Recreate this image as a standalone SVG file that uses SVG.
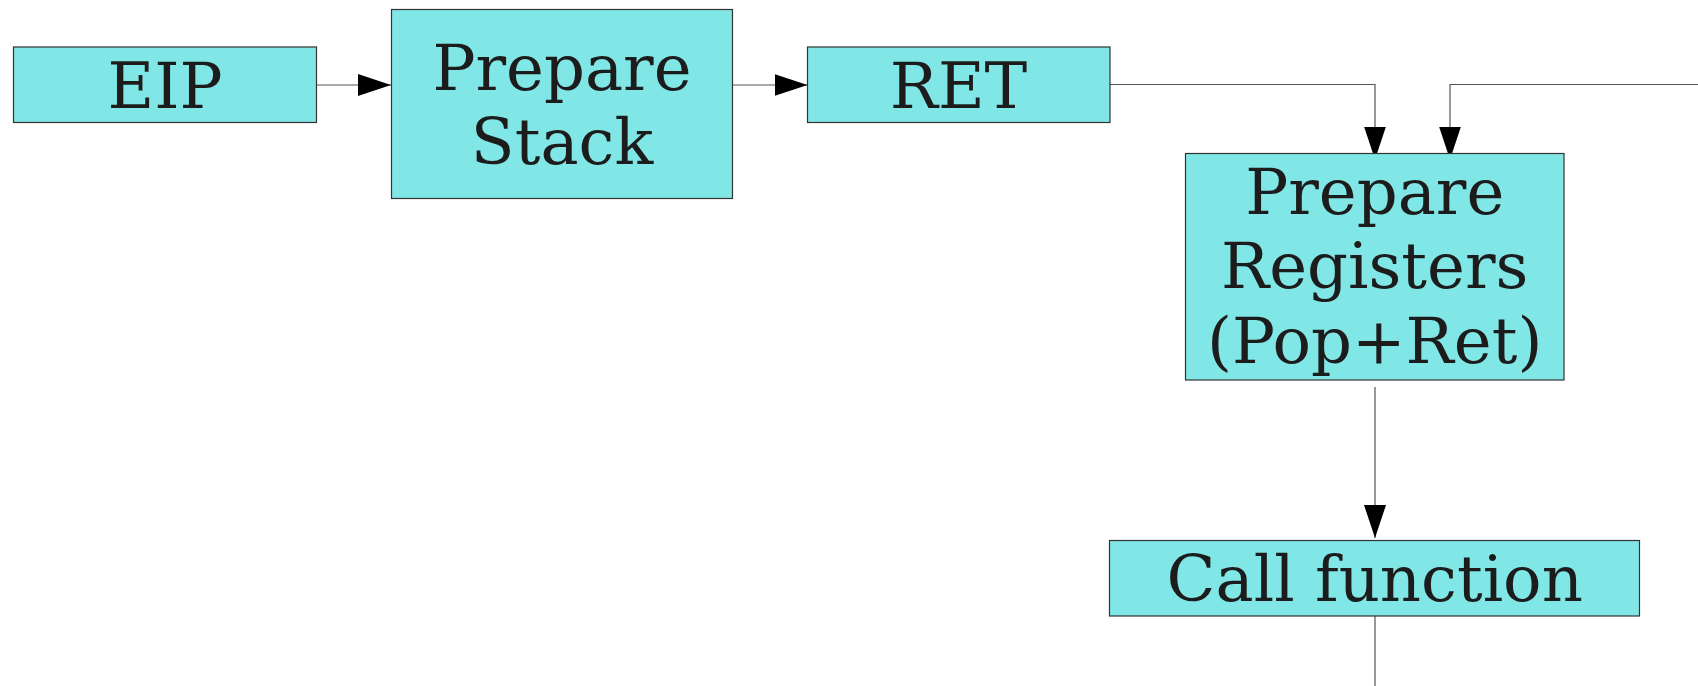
<svg xmlns="http://www.w3.org/2000/svg" width="1698" height="686" viewBox="0 0 1698 686">
  <style>
    .box { fill: #80e6e6; stroke: #333333; stroke-width: 1.2; }
    .lbl { font-family: "DejaVu Serif", "Liberation Serif", serif; font-size: 64px; fill: #1c1c1c; text-anchor: middle; }
    .wire { fill: none; stroke: #555555; stroke-width: 1.2; }
  </style>
  <defs>
    <marker id="head" markerUnits="userSpaceOnUse" markerWidth="34" markerHeight="22" refX="33" refY="11" orient="auto" viewBox="0 0 34 22">
      <path d="M0,0 L33,11 L0,22 z" fill="#000000"/>
    </marker>
  </defs>
  <rect width="1698" height="686" fill="#ffffff"/>

  <!-- connectors -->
  <g id="connectors">
    <path class="wire" d="M316.5,85 H391" marker-end="url(#head)"/>
    <path class="wire" d="M732.5,85 H807.5" marker-end="url(#head)"/>
    <path class="wire" d="M1110,84.5 H1375 V159.5" marker-end="url(#head)"/>
    <path class="wire" d="M1698,84.5 H1450 V159.5" marker-end="url(#head)"/>
    <path class="wire" d="M1375,387 V538" marker-end="url(#head)"/>
    <path class="wire" d="M1375,614 V686"/>
  </g>

  <g id="eip">
    <rect class="box" x="13.5" y="47" width="303" height="75.5"/>
    <text class="lbl" x="165" y="107.5">EIP</text>
  </g>

  <g id="prepare-stack">
    <rect class="box" x="391.5" y="9.5" width="341" height="189"/>
    <text class="lbl" x="562" y="89.5">Prepare</text>
    <text class="lbl" x="562" y="163.5">Stack</text>
  </g>

  <g id="ret">
    <rect class="box" x="807.5" y="47" width="302.5" height="75.5"/>
    <text class="lbl" x="958.5" y="108">RET</text>
  </g>

  <g id="prepare-registers">
    <rect class="box" x="1185.5" y="153.5" width="378.5" height="226.5"/>
    <text class="lbl" x="1374.7" y="214">Prepare</text>
    <text class="lbl" x="1374.7" y="288.3">Registers</text>
    <text class="lbl" x="1374.7" y="362.7">(Pop+Ret)</text>
  </g>

  <g id="call-function">
    <rect class="box" x="1109.5" y="540.5" width="530" height="75.5"/>
    <text class="lbl" x="1374.7" y="600.7">Call function</text>
  </g>
</svg>
